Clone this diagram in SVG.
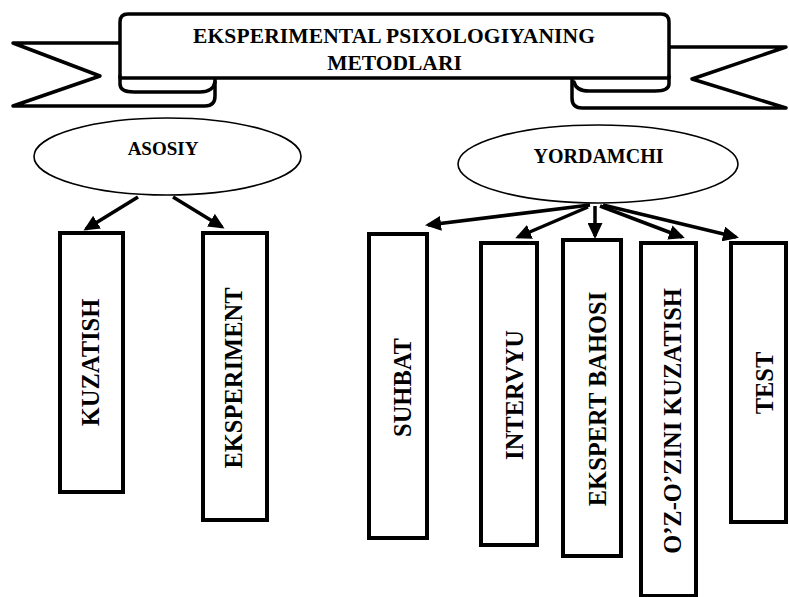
<svg xmlns="http://www.w3.org/2000/svg" width="789" height="597" viewBox="0 0 789 597">
<style>
.band{fill:#fff;stroke:#000;stroke-width:3.5;stroke-linejoin:round;stroke-linecap:round}
.curl{fill:none;stroke:#000;stroke-width:3.5;stroke-linecap:round}
.ell{fill:#fff;stroke:#000;stroke-width:1.6}
.box{fill:#fff;stroke:#000;stroke-width:4}
.t{font-family:"Liberation Serif","Times New Roman",serif;font-weight:bold;fill:#000}
.title{font-size:21.5px;text-anchor:middle}
.lab{font-size:20px;text-anchor:middle}
.vt{font-size:24.5px;text-anchor:middle}
.arr{stroke:#000;stroke-width:3.5;fill:none;marker-end:url(#ah)}
</style>
<defs>
<marker id="ah" markerUnits="userSpaceOnUse" markerWidth="17" markerHeight="15" refX="13" refY="7.5" orient="auto" viewBox="0 0 17 15">
<path d="M0,0 L16,7.5 L0,15 Z" fill="#000"/>
</marker>
</defs>
<rect width="789" height="597" fill="#fff"/>
<g id="banner">
<path class="band" d="M120,43 L13,43 L100,76 L13,106 L205,106 Q215,106 215,96 L215,78"/>
<path class="band" d="M669,47 L786,47 L692,79 L786,108 L582,108 Q572,108 572,98 L572,78"/>
<path class="band" d="M120,78 L120,22 Q120,14 128,14 L661,14 Q669,14 669,22 L669,78 Z"/>
<path class="curl" d="M120,76 L120,84 Q120,92 134,92 L200,92 Q213,92 215,82"/>
<path class="curl" d="M669,76 L669,84 Q669,91 655,91 L589,91 Q576,91 574,82"/>
<text class="t title" x="394" y="43" textLength="402">EKSPERIMENTAL PSIXOLOGIYANING</text>
<text class="t title" x="394.5" y="70">METODLARI</text>
</g>
<g id="asosiy">
<ellipse class="ell" cx="167.5" cy="156.5" rx="133.5" ry="38.5"/>
<text class="t lab" x="163" y="155" style="font-size:19px">ASOSIY</text>
</g>
<g id="yordamchi">
<ellipse class="ell" cx="598" cy="164" rx="140" ry="39"/>
<text class="t lab" x="598.5" y="163">YORDAMCHI</text>
</g>
<g id="connectors">
<line class="arr" x1="138" y1="197" x2="86" y2="229"/>
<line class="arr" x1="173" y1="197" x2="222" y2="227"/>
<line class="arr" x1="590" y1="205" x2="428" y2="225"/>
<line class="arr" x1="588" y1="207" x2="518" y2="237"/>
<line class="arr" x1="595" y1="206" x2="595" y2="236"/>
<line class="arr" x1="600" y1="206" x2="682" y2="237"/>
<line class="arr" x1="603" y1="205" x2="736" y2="237"/>
</g>
<g id="kuzatish">
<rect class="box" x="60" y="233" width="63" height="259"/>
<text class="t vt" transform="translate(99,362.5) rotate(-90)">KUZATISH</text>
</g>
<g id="eksperiment">
<rect class="box" x="203" y="233" width="64" height="287"/>
<text class="t vt" transform="translate(241.5,378) rotate(-90)">EKSPERIMENT</text>
</g>
<g id="suhbat">
<rect class="box" x="369" y="234" width="58" height="304"/>
<text class="t vt" transform="translate(411,387.5) rotate(-90)">SUHBAT</text>
</g>
<g id="intervyu">
<rect class="box" x="481" y="243" width="56" height="302"/>
<text class="t vt" transform="translate(523,395) rotate(-90)">INTERVYU</text>
</g>
<g id="ekspert-bahosi">
<rect class="box" x="563" y="240" width="58" height="316"/>
<text class="t vt" transform="translate(606,399) rotate(-90)">EKSPERT BAHOSI</text>
</g>
<g id="oz-ozini-kuzatish">
<rect class="box" x="641" y="243" width="55" height="353"/>
<text class="t vt" transform="translate(681,421) rotate(-90)">O’Z-O’ZINI KUZATISH</text>
</g>
<g id="test">
<rect class="box" x="731" y="243" width="55" height="279"/>
<text class="t vt" transform="translate(773,383) rotate(-90)">TEST</text>
</g>
</svg>
